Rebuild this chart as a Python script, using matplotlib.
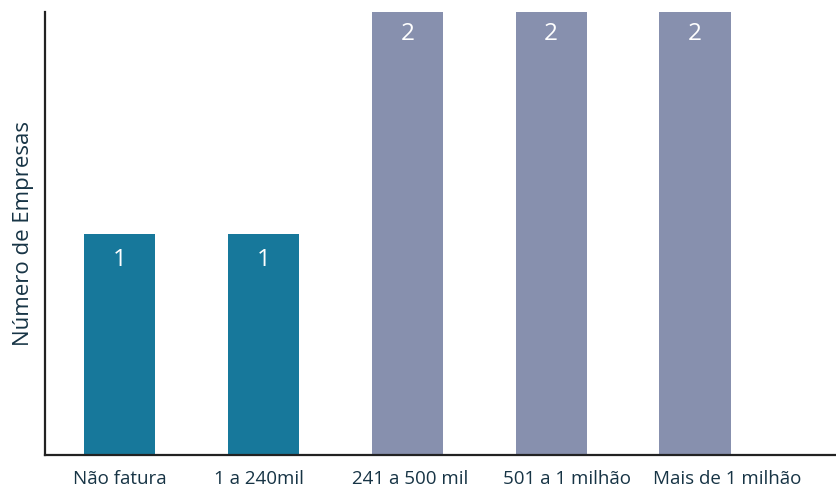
"""Bar chart: number of companies per revenue bracket."""

import numpy as np
from matplotlib import pyplot as plt

# data
faixas = ['Não fatura', '1 a 240mil', '241 a 500 mil', '501 a 1 milhão', 'Mais de 1 milhão']
num_empresas = [1, 1, 2, 2, 2]
cores = ['#17789b', '#17789b', '#8790ae', '#8790ae', '#8790ae']

plt.rcParams['font.family'] = ['Open Sans', 'DejaVu Sans']

fig = plt.figure(figsize=(8.36, 4.93), dpi=100)
ax = fig.add_axes([45 / 836, 1 - 455 / 493, 1 - 45 / 836, (455 - 12) / 493])

x = np.arange(len(faixas))
bars = ax.bar(x, num_empresas, width=0.495, color=cores, zorder=2)

for rect, val in zip(bars, num_empresas):
    y_txt = val - 0.1 if val == 2 else val - 0.12
    ax.text(rect.get_x() + rect.get_width() / 2, y_txt, str(val),
            ha='center', va='center', color='white', fontsize=17.5)

# category labels sit a bit to the right of the bars on the long ones
desloc = np.array([0.0, -0.03, 0.02, 0.11, 0.22])

ax.set_xlim(-0.52, 4.98)
ax.set_ylim(0, 2)
ax.set_xticks(x + desloc)
ax.set_xticklabels(faixas, fontsize=13.5, color='#173445')
ax.tick_params(axis='x', length=0, pad=11)
ax.set_yticks([])
ax.set_ylabel('Número de Empresas', fontsize=16, color='#173445', labelpad=8)

for side in ['top', 'right']:
    ax.spines[side].set_visible(False)
for side in ['left', 'bottom']:
    ax.spines[side].set_linewidth(1.6)
    ax.spines[side].set_color('#222222')

plt.savefig('out.png', dpi=100)
